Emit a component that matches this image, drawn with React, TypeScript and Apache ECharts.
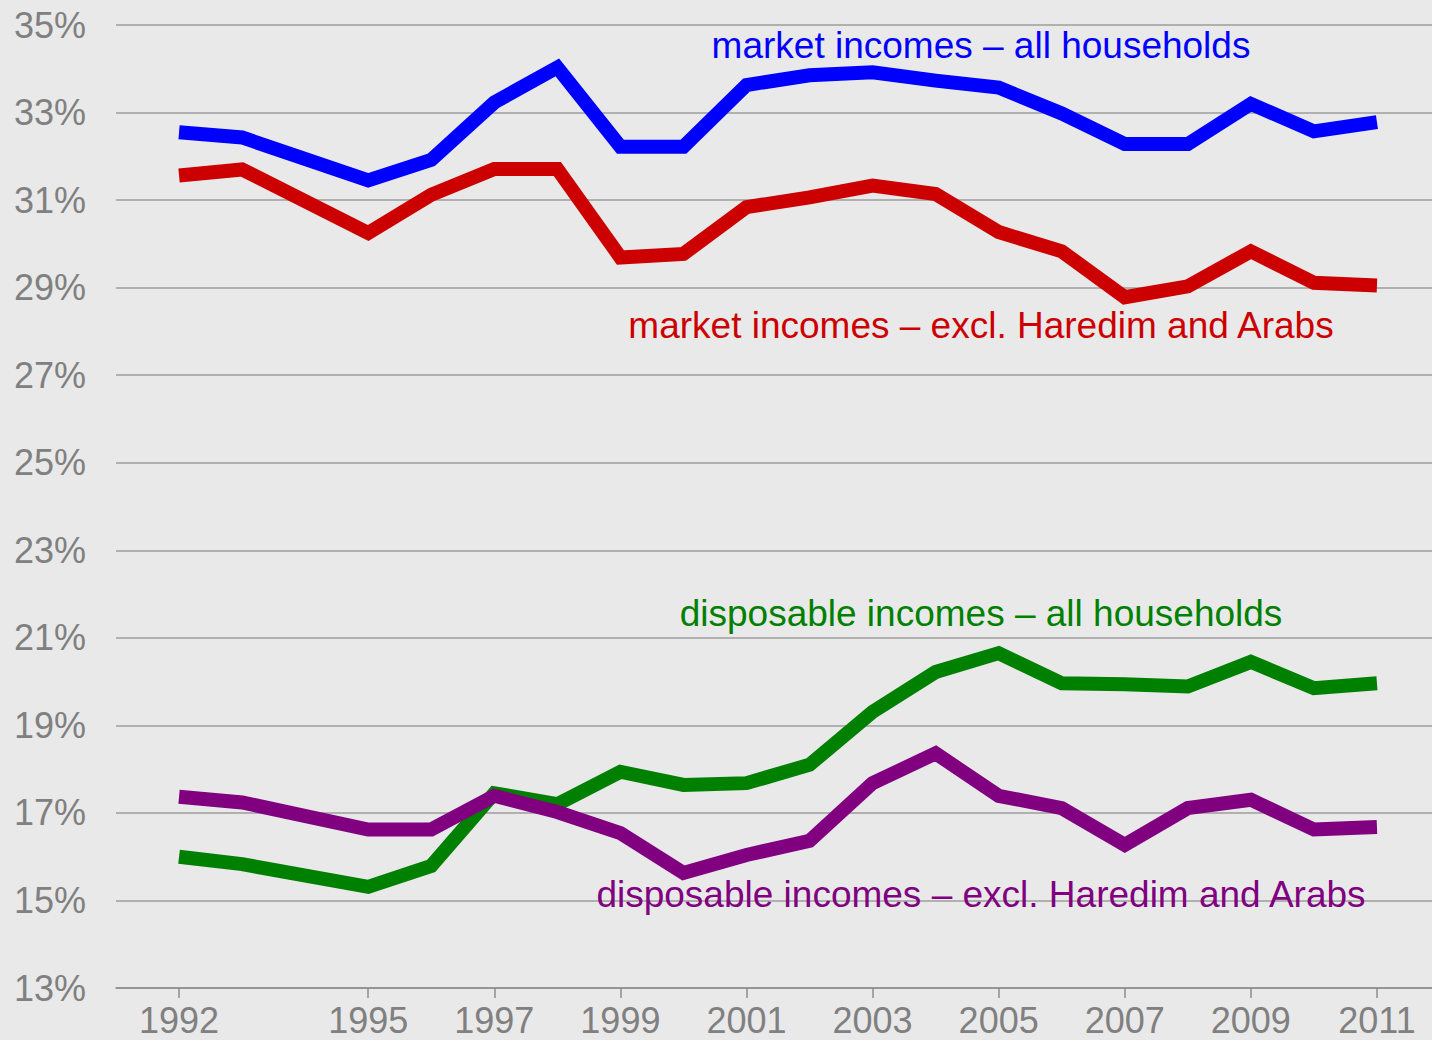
import React, { useEffect, useRef } from "react";
import * as echarts from "echarts";

const years = [1992, 1993, 1995, 1996, 1997, 1998, 1999, 2000, 2001, 2002, 2003, 2004, 2005, 2006, 2007, 2008, 2009, 2010, 2011];
const axisYears = [1991, 1992, 1993, 1994, 1995, 1996, 1997, 1998, 1999, 2000, 2001, 2002, 2003, 2004, 2005, 2006, 2007, 2008, 2009, 2010, 2011, 2012];
const labelYears = [1992, 1995, 1997, 1999, 2001, 2003, 2005, 2007, 2009, 2011];

const marketAll = [32.55, 32.43, 31.45, 31.92, 33.23, 34.03, 32.22, 32.22, 33.63, 33.85, 33.92, 33.73, 33.57, 32.98, 32.28, 32.28, 33.2, 32.57, 32.78];
const marketExcl = [31.56, 31.7, 30.25, 31.12, 31.71, 31.71, 29.69, 29.77, 30.84, 31.06, 31.33, 31.14, 30.27, 29.83, 28.78, 29.03, 29.83, 29.11, 29.05];
const dispAll = [16.0, 15.83, 15.31, 15.79, 17.45, 17.2, 17.94, 17.64, 17.68, 18.1, 19.31, 20.22, 20.65, 19.96, 19.94, 19.89, 20.45, 19.85, 19.96];
const dispExcl = [17.37, 17.24, 16.62, 16.62, 17.39, 17.02, 16.54, 15.63, 16.04, 16.36, 17.68, 18.36, 17.39, 17.11, 16.27, 17.11, 17.3, 16.62, 16.68];

const seriesNames = [
  "market incomes – all households",
  "market incomes – excl. Haredim and Arabs",
  "disposable incomes – all households",
  "disposable incomes – excl. Haredim and Arabs",
];
const seriesColors = ["#0000ff", "#cc0000", "#008000", "#800080"];
const seriesValues = [marketAll, marketExcl, dispAll, dispExcl];

const FONT = "'Liberation Sans', Arial, sans-serif";

export default function App() {
  const ref = useRef<HTMLDivElement>(null);
  useEffect(() => {
    if (!ref.current) return;
    const chart = echarts.init(ref.current, null, { renderer: "svg" });
    const labelPos = [
      { x: 981, y: 45 },
      { x: 981, y: 325 },
      { x: 981, y: 613 },
      { x: 981, y: 894 },
    ];
    chart.setOption({
      animation: false,
      backgroundColor: "#e9e9e9",
      grid: { left: 116, right: 0, top: 25, bottom: 52, containLabel: false },
      xAxis: {
        type: "category",
        boundaryGap: false,
        data: axisYears.map(String),
        axisLine: { show: true, lineStyle: { color: "#8c8c8c", width: 1.5 } },
        axisTick: {
          show: true,
          length: 10,
          interval: (i: number, v: string) => labelYears.includes(Number(v)),
          lineStyle: { color: "#8c8c8c", width: 1.5 },
        },
        axisLabel: {
          interval: (i: number, v: string) => labelYears.includes(Number(v)),
          color: "#808080",
          fontSize: 36,
          lineHeight: 28,
          fontFamily: FONT,
          margin: 18,
        },
        splitLine: { show: false },
      },
      yAxis: {
        type: "value",
        min: 13,
        max: 35,
        interval: 2,
        axisLine: { show: false },
        axisTick: { show: false },
        axisLabel: {
          formatter: (v: number) => `${v}%`,
          color: "#808080",
          fontSize: 36,
          fontFamily: FONT,
          margin: 30,
        },
        splitLine: { show: true, lineStyle: { color: "#9c9c9c", width: 1.5 } },
      },
      series: seriesValues.map((vals, k) => ({
        type: "line",
        name: seriesNames[k],
        data: years.map((y, i) => [String(y), vals[i]]),
        showSymbol: false,
        symbol: "none",
        lineStyle: { color: seriesColors[k], width: 14, cap: "butt", join: "miter" },
        z: 2 + k,
      })),
      graphic: seriesNames.map((name, k) => ({
        type: "text",
        x: labelPos[k].x,
        y: labelPos[k].y,
        z: 100,
        style: {
          text: name,
          fill: seriesColors[k],
          fontSize: 37,
          fontFamily: FONT,
          textAlign: "center",
          textVerticalAlign: "middle",
        },
      })),
    });
    return () => chart.dispose();
  }, []);
  return (
    <div
      style={{ position: "absolute", left: 0, top: 0, width: 1432, height: 1040, overflow: "hidden" }}
    >
      <div ref={ref} style={{ width: 1440, height: 1040 }} />
    </div>
  );
}
